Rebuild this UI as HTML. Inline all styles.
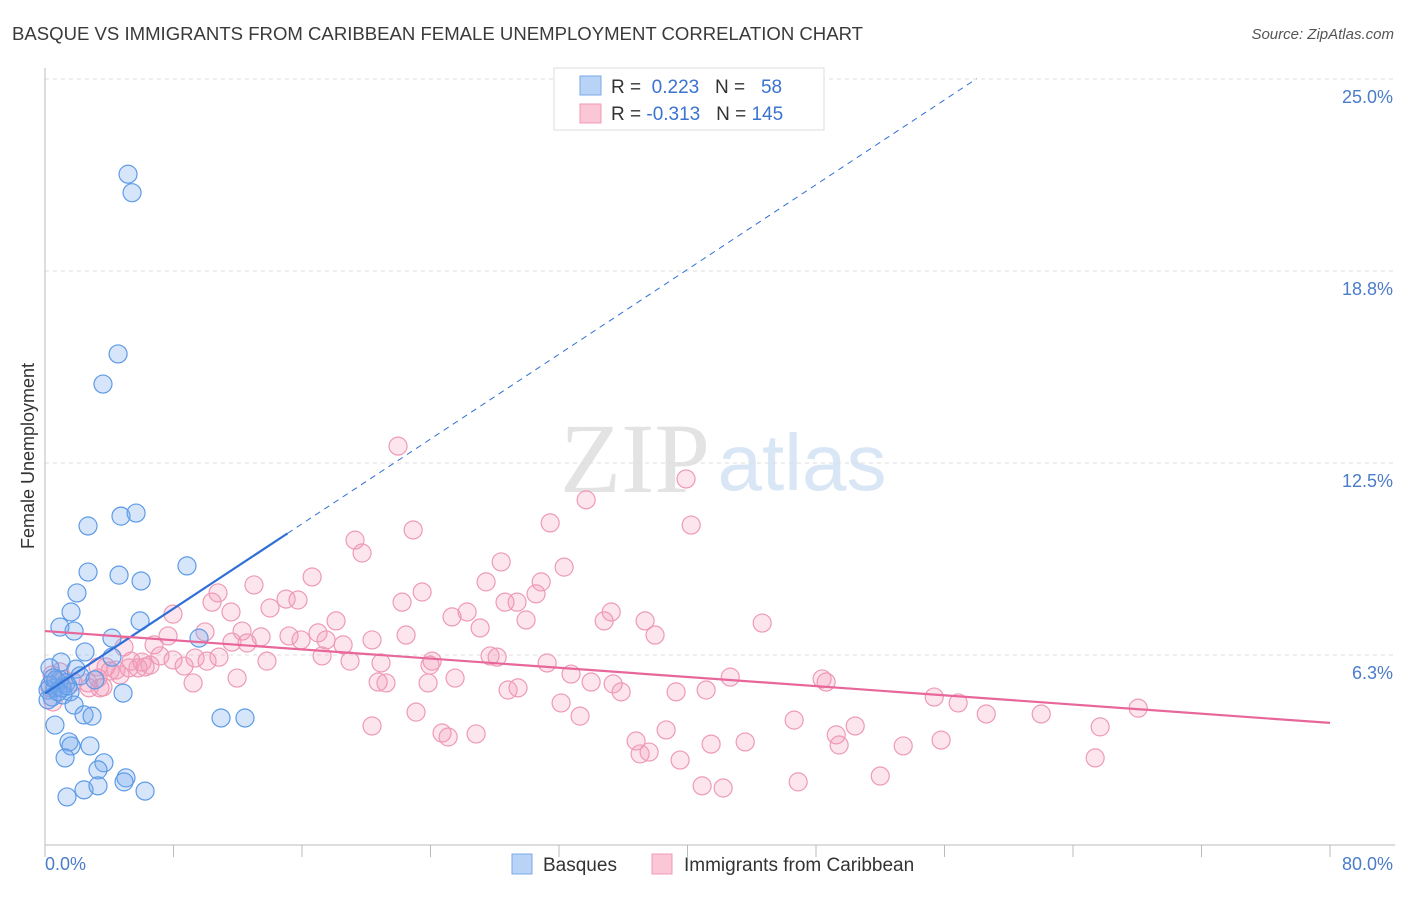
<!DOCTYPE html>
<html><head><meta charset="utf-8"><style>
body{margin:0;background:#fff;font-family:"Liberation Sans",sans-serif}
</style></head><body>
<svg width="1406" height="892" viewBox="0 0 1406 892" xmlns="http://www.w3.org/2000/svg">
<text x="12" y="40" font-size="18" fill="#3a3a3a" textLength="851" lengthAdjust="spacingAndGlyphs">BASQUE VS IMMIGRANTS FROM CARIBBEAN FEMALE UNEMPLOYMENT CORRELATION CHART</text>
<text x="1394" y="39" font-size="15" fill="#555" text-anchor="end" font-style="italic">Source: ZipAtlas.com</text>
<g>
<text x="635" y="492" font-size="100" fill="#ddd" text-anchor="middle" font-family="Liberation Serif,serif" opacity="0.8">ZIP</text>
<text x="802" y="490" font-size="80" fill="#cfe0f3" text-anchor="middle" opacity="0.8">atlas</text>
</g>
<g id="grid"></g>
<g id="axes"></g>
<g id="marks"></g>
<text transform="translate(34,456) rotate(-90)" font-size="18" fill="#333" text-anchor="middle">Female Unemployment</text>
<text x="45" y="870" font-size="18" fill="#4a7cc9">0.0%</text>
<text x="1393" y="870" font-size="18" fill="#4a7cc9" text-anchor="end">80.0%</text>
<g>
<rect x="554" y="68" width="270" height="62" fill="#fff" stroke="#ddd"/>
<rect x="580" y="76" width="21" height="19" fill="#b9d3f7" stroke="#7aa8ea"/>
<rect x="580" y="104" width="21" height="19" fill="#fbc7d7" stroke="#f09ab5"/>
<text x="611" y="93" font-size="19" fill="#333">R = <tspan fill="#3a73d0">&#160;0.223</tspan>&#160;&#160;&#160;N = <tspan fill="#3a73d0">&#160;&#160;58</tspan></text>
<text x="611" y="120" font-size="19" fill="#333">R = <tspan fill="#3a73d0">-0.313</tspan>&#160;&#160;&#160;N = <tspan fill="#3a73d0">145</tspan></text>
</g>
<g>
<rect x="512" y="854" width="20" height="20" fill="#b9d3f7" stroke="#7aa8ea"/>
<text x="543" y="871" font-size="19" fill="#333">Basques</text>
<rect x="652" y="854" width="20" height="20" fill="#fbc7d7" stroke="#f09ab5"/>
<text x="684" y="871" font-size="19" fill="#333">Immigrants from Caribbean</text>
</g>
</svg>
<script>
const yTicks=[6.25,12.5,18.75,25];
const yTickLabels=["6.3%","12.5%","18.8%","25.0%"];
const xTicks=[0,8,16,24,32,40,48,56,64,72,80];
const basqueX=[5.17,5.42,4.55,3.61,4.73,5.67,2.68,8.84,2.68,4.61,5.98,1.99,1.62,5.92,0.93,1.81,4.17,9.59,2.49,1.0,0.31,1.93,0.93,1.31,0.62,0.19,1.56,0.44,4.86,1.12,1.81,2.43,2.93,0.62,10.96,12.45,1.49,1.62,2.80,1.25,3.67,3.30,5.04,4.92,2.43,3.30,6.23,1.37,0.31,0.68,0.19,1.06,0.81,0.5,1.43,2.18,4.17,3.11];
const basqueY=[21.9,21.3,16.05,15.07,10.77,10.87,10.45,9.15,8.95,8.85,8.66,8.27,7.65,7.36,7.16,7.03,6.80,6.80,6.35,6.02,5.83,5.79,5.44,5.34,5.18,5.11,5.05,4.88,5.01,4.95,4.62,4.30,4.26,3.97,4.20,4.20,3.42,3.29,3.29,2.90,2.74,2.51,2.25,2.12,1.86,1.99,1.82,1.63,5.27,5.44,4.79,5.18,5.05,5.50,5.24,5.57,6.18,5.44];
const caribX=[21.98,39.91,33.69,31.45,40.23,22.92,19.30,19.74,28.40,32.32,16.63,27.46,30.89,13.01,10.77,23.48,30.57,15.01,15.75,22.23,10.40,28.64,29.39,26.28,25.34,35.25,14.01,11.58,7.97,18.12,34.81,37.36,29.95,44.65,12.27,27.09,9.96,7.66,17.00,15.19,13.45,37.98,22.48,20.36,15.94,17.50,18.56,11.64,6.79,4.92,12.58,10.83,7.16,9.34,7.97,10.09,6.04,6.54,3.30,5.36,8.66,3.80,4.42,4.05,5.23,5.79,13.82,17.25,18.99,24.10,23.97,20.92,27.71,28.15,31.26,32.75,34.00,35.37,35.87,42.66,48.38,48.63,39.29,41.16,29.45,28.83,25.53,23.85,20.74,21.23,11.96,9.22,3.61,2.68,1.74,3.30,2.74,0.93,0.44,0.31,0.50,32.13,33.31,23.10,20.36,24.72,25.10,26.84,38.67,46.64,50.44,49.26,49.44,55.36,56.85,58.60,62.02,68.06,65.69,65.38,55.79,53.43,43.59,41.47,36.80,37.05,37.61,39.54,40.91,42.22,46.89,52.00,3.42,4.67,1.18,6.23];
const caribY=[13.05,11.98,11.30,10.55,10.48,10.32,9.99,9.57,9.28,9.11,8.79,8.63,8.63,8.53,8.27,8.30,8.24,8.07,8.04,7.97,7.97,7.97,7.97,7.65,7.49,7.65,7.78,7.65,7.58,7.36,7.36,7.36,7.39,7.29,7.03,7.13,7.00,6.87,6.97,6.87,6.84,6.90,6.90,6.74,6.74,6.74,6.58,6.67,6.58,6.51,6.64,6.18,6.22,6.15,6.09,6.05,6.02,5.92,5.86,6.05,5.89,5.86,5.76,5.73,5.83,5.83,6.05,6.22,6.05,6.05,5.92,5.99,6.22,6.18,5.99,5.63,5.37,5.31,5.05,5.53,5.47,5.37,5.05,5.11,5.18,5.11,5.50,5.34,5.37,5.34,5.50,5.34,5.21,5.34,5.37,5.50,5.18,5.70,5.60,5.18,4.72,4.69,4.26,4.39,3.94,3.71,3.58,3.68,3.81,4.13,3.94,3.65,3.32,4.88,4.69,4.33,4.33,4.52,3.91,2.90,3.48,3.29,3.42,3.35,3.45,3.03,3.09,2.83,1.99,1.92,2.12,2.31,5.18,5.60,5.44,5.86];
const basqueTrend=[5.0,0.345,15.1,58];
const caribTrend=[7.03,4.04];
const NS="http://www.w3.org/2000/svg";
const X=v=>45+v*1285/80, Y=v=>847-v*30.72;
function mk(tag,attrs,parent){const e=document.createElementNS(NS,tag);for(const k in attrs)e.setAttribute(k,attrs[k]);document.getElementById(parent).appendChild(e);return e;}
yTicks.forEach((t,i)=>{
 const g=mk('line',{x1:45,x2:1395,y1:Y(t),y2:Y(t),stroke:'#ddd','stroke-dasharray':'4,4'},'grid');
 
 
 const l=mk('text',{x:1393,y:Y(t)+24,'font-size':18,fill:'#4a7cc9','text-anchor':'end'},'grid');
 l.textContent=yTickLabels[i];
 
 
});
const ya=mk('line',{x1:45,x2:45,y1:68,y2:845,stroke:'#bbb'},'axes');


const xa=mk('line',{x1:45,x2:1395,y1:845,y2:845,stroke:'#bbb'},'axes');


xTicks.forEach(t=>{
 const k=mk('line',{x1:X(t),x2:X(t),y1:845,y2:857,stroke:'#bbb'},'axes');
 
 
});
caribX.forEach((x,i)=>{
 const c=mk('circle',{cx:X(x),cy:Y(caribY[i]),r:9,fill:'rgba(244,150,182,0.25)',stroke:'#ee9ab6','stroke-width':1.2},'marks');
 
 
});
basqueX.forEach((x,i)=>{
 const c=mk('circle',{cx:X(x),cy:Y(basqueY[i]),r:9,fill:'rgba(120,170,240,0.3)',stroke:'#5d9be6','stroke-width':1.2},'marks');
 
 
});
const [b0,bs,bEnd,bDash]=basqueTrend;
const t1=mk('line',{x1:X(0),y1:Y(b0),x2:X(bEnd),y2:Y(b0+bs*bEnd),stroke:'#2f6fd6','stroke-width':2.2},'marks');


const t2=mk('line',{x1:X(bEnd),y1:Y(b0+bs*bEnd),x2:X(bDash),y2:Y(b0+bs*bDash),stroke:'#2f6fd6','stroke-width':1,'stroke-dasharray':'6,5'},'marks');


const t3=mk('line',{x1:X(0),y1:Y(caribTrend[0]),x2:X(80),y2:Y(caribTrend[1]),stroke:'#e8679a','stroke-width':2.2},'marks');


</script>
</body></html>
